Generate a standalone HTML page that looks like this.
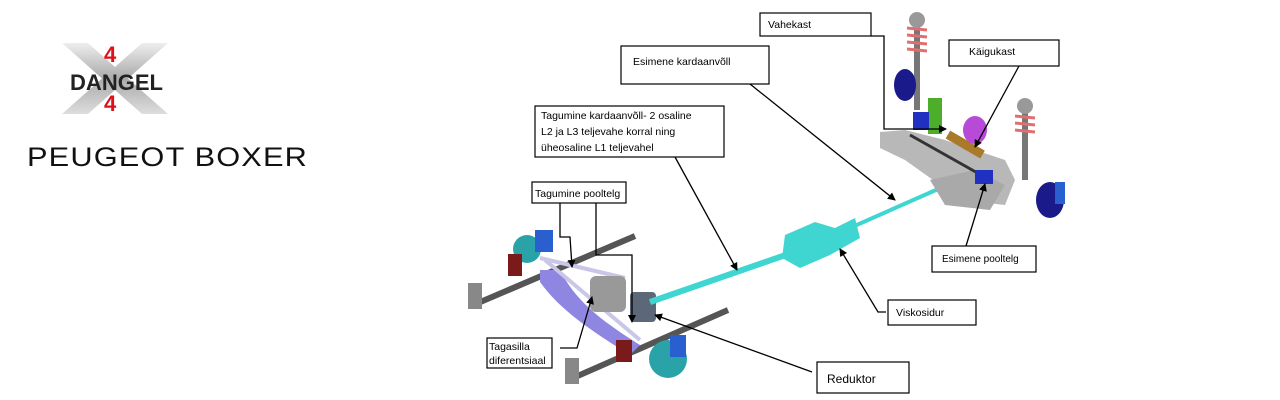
<!DOCTYPE html>
<html><head><meta charset="utf-8"><style>
html,body{margin:0;padding:0;background:#fff;width:1280px;height:400px;overflow:hidden}
svg{display:block}
text{font-family:"Liberation Sans",sans-serif}
</style></head><body>
<svg width="1280" height="400" viewBox="0 0 1280 400" xmlns="http://www.w3.org/2000/svg">
<defs>
<linearGradient id="sil" x1="0" y1="0" x2="0" y2="1"><stop offset="0" stop-color="#eeeeee"/><stop offset="0.5" stop-color="#aaaaaa"/><stop offset="1" stop-color="#dddddd"/></linearGradient>
<marker id="ar" markerWidth="8" markerHeight="8" refX="7" refY="4" orient="auto" markerUnits="userSpaceOnUse"><path d="M0,0 L8,4 L0,8 z" fill="#000"/></marker>
</defs>
<!-- Logo -->
<polygon points="62,43 88,43 168,114 142,114" fill="url(#sil)"/>
<polygon points="142,43 168,43 88,114 62,114" fill="url(#sil)"/>
<text x="104" y="62" font-size="22" font-weight="bold" fill="#e0101a">4</text>
<text x="104" y="111" font-size="22" font-weight="bold" fill="#e0101a">4</text>
<text x="70" y="90" font-size="22" font-weight="bold" fill="#222" textLength="93" lengthAdjust="spacingAndGlyphs">DANGEL</text>
<text x="27" y="166" font-size="27" fill="#111" letter-spacing="1" textLength="281" lengthAdjust="spacingAndGlyphs">PEUGEOT BOXER</text>

<!-- Rear leaf springs -->
<line x1="478" y1="303" x2="635" y2="236" stroke="#555" stroke-width="6"/>
<line x1="573" y1="378" x2="728" y2="310" stroke="#555" stroke-width="6"/>
<rect x="468" y="283" width="14" height="26" fill="#888"/>
<rect x="565" y="358" width="14" height="26" fill="#888"/>
<path d="M540,270 L560,270 C575,300 600,320 640,345 L630,355 C590,330 560,310 540,282 z" fill="#8e86e0"/>
<line x1="545" y1="260" x2="640" y2="340" stroke="#c9c6e8" stroke-width="4"/>
<line x1="540" y1="258" x2="625" y2="278" stroke="#c9c6e8" stroke-width="4"/>
<circle cx="527" cy="249" r="14" fill="#2aa3a8"/>
<rect x="535" y="230" width="18" height="22" fill="#2a5fd0"/>
<rect x="508" y="254" width="14" height="22" fill="#7a1a1a"/>
<circle cx="668" cy="359" r="19" fill="#2aa3a8"/>
<rect x="670" y="335" width="16" height="22" fill="#2a5fd0"/>
<rect x="616" y="340" width="16" height="22" fill="#7a1a1a"/>
<rect x="590" y="276" width="36" height="36" rx="6" fill="#999"/>
<rect x="630" y="292" width="26" height="30" rx="4" fill="#5c6878"/>
<!-- propshaft -->
<line x1="650" y1="302" x2="800" y2="250" stroke="#3fd6d2" stroke-width="6"/>
<line x1="800" y1="250" x2="945" y2="186" stroke="#3fd6d2" stroke-width="4"/>
<path d="M785,235 L815,222 L835,228 L855,218 L860,238 L830,255 L800,268 L782,258 z" fill="#3fd6d2"/>
<!-- front subframe -->
<path d="M880,132 L905,130 L945,140 L1005,160 L1015,180 L1005,205 L960,200 L940,185 L905,160 L880,148 z" fill="#b8b8b8"/>
<path d="M930,180 L975,170 L1005,185 L990,210 L945,205 z" fill="#a9a9a9"/>
<line x1="910" y1="135" x2="990" y2="180" stroke="#333" stroke-width="3"/>
<rect x="945" y="140" width="40" height="9" fill="#a97a2a" transform="rotate(30 965 145)"/>
<rect x="928" y="98" width="14" height="36" fill="#4cae2a"/>
<rect x="913" y="112" width="16" height="18" fill="#2030c0"/>
<rect x="975" y="170" width="18" height="14" fill="#2030c0"/>
<line x1="917" y1="20" x2="917" y2="110" stroke="#777" stroke-width="6"/>
<g stroke="#e07070" stroke-width="3"><line x1="907" y1="28" x2="927" y2="30"/><line x1="907" y1="35" x2="927" y2="37"/><line x1="907" y1="42" x2="927" y2="44"/><line x1="907" y1="49" x2="927" y2="51"/></g>
<circle cx="917" cy="20" r="8" fill="#999"/>
<line x1="1025" y1="108" x2="1025" y2="180" stroke="#777" stroke-width="6"/>
<g stroke="#e07070" stroke-width="3"><line x1="1015" y1="116" x2="1035" y2="118"/><line x1="1015" y1="123" x2="1035" y2="125"/><line x1="1015" y1="130" x2="1035" y2="132"/></g>
<circle cx="1025" cy="106" r="8" fill="#999"/>
<ellipse cx="905" cy="85" rx="11" ry="16" fill="#1a1a8a"/>
<ellipse cx="1050" cy="200" rx="14" ry="18" fill="#1a1a8a"/>
<rect x="1055" y="182" width="10" height="22" fill="#2a5fd0"/>
<ellipse cx="975" cy="130" rx="12" ry="14" fill="#b84ad8"/>

<g stroke="#000" stroke-width="1.3" fill="none">
<line x1="750" y1="84" x2="895" y2="200" marker-end="url(#ar)"/>
<line x1="675" y1="157" x2="737" y2="270" marker-end="url(#ar)"/>
<polyline points="560,203 560,237 570,237 572,267" marker-end="url(#ar)"/>
<polyline points="596,203 596,255 632,255 632,322" marker-end="url(#ar)"/>
<polyline points="560,348 577,348 592,297" marker-end="url(#ar)"/>
<line x1="812" y1="372" x2="655" y2="315" marker-end="url(#ar)"/>
<polyline points="886,312 878,312 840,249" marker-end="url(#ar)"/>
<polyline points="871,36 884,36 884,129 946,129" marker-end="url(#ar)"/>
<line x1="1019" y1="66" x2="975" y2="147" marker-end="url(#ar)"/>
<line x1="966" y1="246" x2="985" y2="184" marker-end="url(#ar)"/>
</g>

<g fill="#fff" stroke="#000" stroke-width="1.2">
<rect x="760" y="13" width="111" height="23"/>
<rect x="949" y="40" width="110" height="26"/>
<rect x="621" y="46" width="148" height="38"/>
<rect x="535" y="106" width="189" height="51"/>
<rect x="532" y="182" width="94" height="21"/>
<rect x="487" y="338" width="65" height="30"/>
<rect x="817" y="362" width="92" height="31"/>
<rect x="888" y="300" width="88" height="25"/>
<rect x="932" y="246" width="104" height="26"/>
</g>
<g font-size="10.5" fill="#000">
<text x="768" y="28">Vahekast</text>
<text x="969" y="55">Käigukast</text>
<text x="633" y="65">Esimene kardaanvõll</text>
<text x="541" y="119">Tagumine kardaanvõll- 2 osaline</text>
<text x="541" y="135">L2 ja L3 teljevahe korral ning</text>
<text x="541" y="151">üheosaline L1 teljevahel</text>
<text x="535" y="197">Tagumine pooltelg</text>
<text x="489" y="350">Tagasilla</text>
<text x="489" y="364">diferentsiaal</text>
<text x="827" y="383" font-size="12">Reduktor</text>
<text x="896" y="316">Viskosidur</text>
<text x="942" y="262" font-size="10">Esimene pooltelg</text>
</g>
</svg>
</body></html>
